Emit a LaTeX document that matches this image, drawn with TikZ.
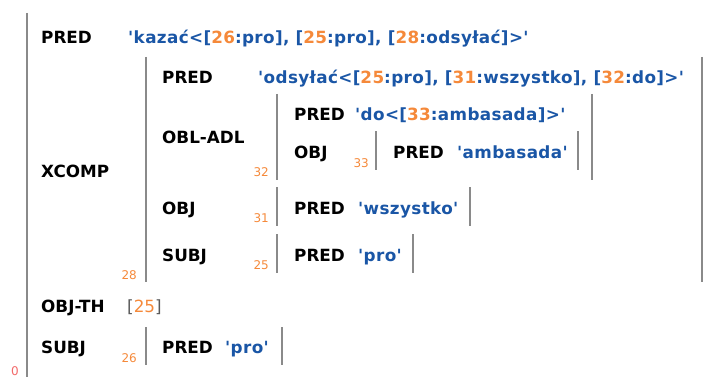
\documentclass[tikz,border=0pt]{standalone}
\usepackage{fontspec}
\setmainfont{DejaVu Sans}[Ligatures=TeXOff]
\usepackage{xcolor}
\definecolor{valblue}{HTML}{1A56A6}
\definecolor{idxorange}{HTML}{F5893A}
\definecolor{bargray}{HTML}{8A8A8A}
\definecolor{rootred}{HTML}{F26A6A}
\newcommand{\fid}[1]{\textcolor{idxorange}{#1}}

\begin{document}
\begin{tikzpicture}[x=1pt, y=-1pt, line cap=butt,
  attr/.style={anchor=base west, inner sep=0pt, font=\fontsize{16.8}{19}\selectfont\bfseries},
  val/.style={attr, text=valblue, font=\fontsize{16.8}{19}\selectfont\bfseries\addfontfeature{LetterSpace=2.2}},
  idx/.style={anchor=base east, inner sep=0pt, text=idxorange, font=\fontsize{12}{14}\selectfont},
  fbar/.style={draw=bargray, line width=2.7pt}]
\useasboundingbox (0,0) rectangle (708,377);
% brackets of the f-structures
\draw[fbar] (27,13) -- (27,377);
\draw[fbar] (146,57) -- (146,282);
\draw[fbar] (702,57) -- (702,282);
\draw[fbar] (277,94) -- (277,180);
\draw[fbar] (592,94) -- (592,180);
\draw[fbar] (376,131) -- (376,170);
\draw[fbar] (578,131) -- (578,170);
\draw[fbar] (277,187) -- (277,226);
\draw[fbar] (470,187) -- (470,226);
\draw[fbar] (277,234) -- (277,273);
\draw[fbar] (413,234) -- (413,273);
\draw[fbar] (146,327) -- (146,365);
\draw[fbar] (282,327) -- (282,365);
% outer level
\node[attr] (pred0) at (41,44) {PRED};
\node[val] (pred0v) at (128,44) {'kazać<[\fid{26}:pro], [\fid{25}:pro], [\fid{28}:odsyłać]>'};
\node[attr] (xcomp) at (41,177) {XCOMP};
\node[idx] (f28) at (137,279) {28};
\node[attr] (objth) at (41,312) {OBJ-TH};
\node[attr, font=\fontsize{16.8}{19}\selectfont] (objthv) at (127,312) {\textcolor{black!65}{[}\fid{25}\textcolor{black!65}{]}};
\node[attr] (subj0) at (41,353) {SUBJ};
\node[idx] (f26) at (137,362) {26};
\node[attr] (pred26) at (162,353) {PRED};
\node[val] (pred26v) at (225,353) {'pro'};
\node[idx, text=rootred] (f0) at (19,375) {0};
% XCOMP
\node[attr] (pred28) at (162,84) {PRED};
\node[val] (pred28v) at (258,84) {'odsyłać<[\fid{25}:pro], [\fid{31}:wszystko], [\fid{32}:do]>'};
\node[attr] (obladl) at (162,143) {OBL-ADL};
\node[idx] (f32) at (269,176) {32};
\node[attr] (obj31) at (162,214) {OBJ};
\node[idx] (f31) at (269,222) {31};
\node[attr] (subj25) at (162,261) {SUBJ};
\node[idx] (f25) at (269,269) {25};
% OBL-ADL
\node[attr] (pred32) at (294,121) {PRED};
\node[val] (pred32v) at (355,121) {'do<[\fid{33}:ambasada]>'};
\node[attr] (obj33) at (294,158) {OBJ};
\node[idx] (f33) at (369,167) {33};
\node[attr] (pred33) at (393,158) {PRED};
\node[val] (pred33v) at (457,158) {'ambasada'};
% OBJ and SUBJ of XCOMP
\node[attr] (pred31) at (294,214) {PRED};
\node[val] (pred31v) at (358,214) {'wszystko'};
\node[attr] (pred25) at (294,261) {PRED};
\node[val] (pred25v) at (358,261) {'pro'};
\end{tikzpicture}
\end{document}
